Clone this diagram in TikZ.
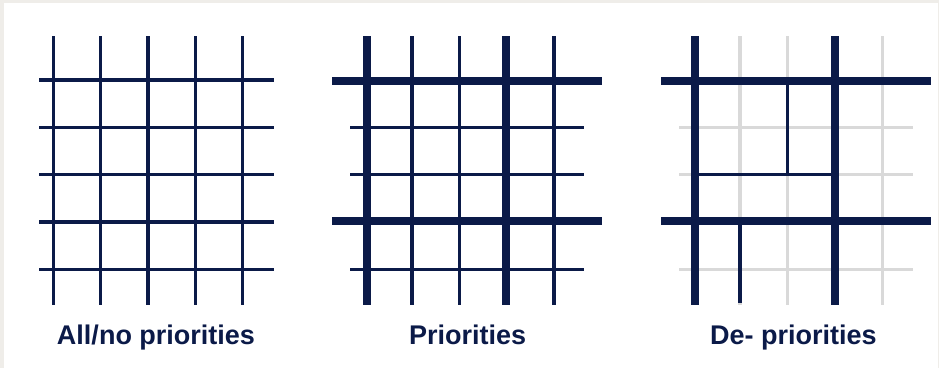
\documentclass[tikz,border=0pt]{standalone}
\usepackage{fontspec}
\setmainfont{Liberation Sans}
\usepackage{xcolor}
\usetikzlibrary{positioning}

\definecolor{navy}{HTML}{0B1A48}
\definecolor{faint}{HTML}{D9D9D9}
\definecolor{frame}{HTML}{EFEDE9}

\begin{document}
\begin{tikzpicture}[
    x=1pt, y=-1pt,
    thinline/.style={draw=navy, line width=3.2pt},
    thickline/.style={draw=navy, line width=8pt},
    faintline/.style={draw=faint, line width=3.2pt},
    caption/.style={font=\fontsize{27}{30}\selectfont\bfseries, text=navy, inner sep=0pt, anchor=base}
]
% Frame
\fill[frame] (0,0) rectangle (939,368);
\fill[white] (4,3) rectangle (938,368);
\useasboundingbox (0,0) rectangle (939,368);

% All/no priorities
\foreach \x in {53.3, 100.7, 148, 195.3, 242.7} {
    \draw[thinline] (\x, 36) -- (\x, 305);
}
\foreach \y in {80, 127.3, 174.7, 222, 269.3} {
    \draw[thinline] (39, \y) -- (274, \y);
}
\node[caption] (allno) at (156, 344.5) {All/no priorities};

% Priorities
\foreach \x in {412, 459.3, 554} {
    \draw[thinline] (\x, 36) -- (\x, 305);
}
\foreach \y in {127.3, 174.3, 269.3} {
    \draw[thinline] (350, \y) -- (584.3, \y);
}
\foreach \x in {366.7, 506} {
    \draw[thickline] (\x, 36) -- (\x, 305);
}
\foreach \y in {81, 220.7} {
    \draw[thickline] (332, \y) -- (602.3, \y);
}
\node[caption] (prio) at (467.7, 344.5) {Priorities};

% De- priorities
\foreach \x in {740, 787.7, 882.3} {
    \draw[faintline] (\x, 36) -- (\x, 305);
}
\foreach \y in {127.3, 174.3, 269.3} {
    \draw[faintline] (679, \y) -- (913, \y);
}
\draw[thinline] (787.7, 81) -- (787.7, 174.3);
\draw[thinline] (695, 174.3) -- (834.7, 174.3);
\draw[thinline] (740, 220.7) -- (740, 303);
\foreach \x in {695, 834.7} {
    \draw[thickline] (\x, 36) -- (\x, 305);
}
\foreach \y in {81, 220.7} {
    \draw[thickline] (661, \y) -- (931, \y);
}
\node[caption] (depri) at (793.3, 344.5) {De- priorities};
\end{tikzpicture}
\end{document}
